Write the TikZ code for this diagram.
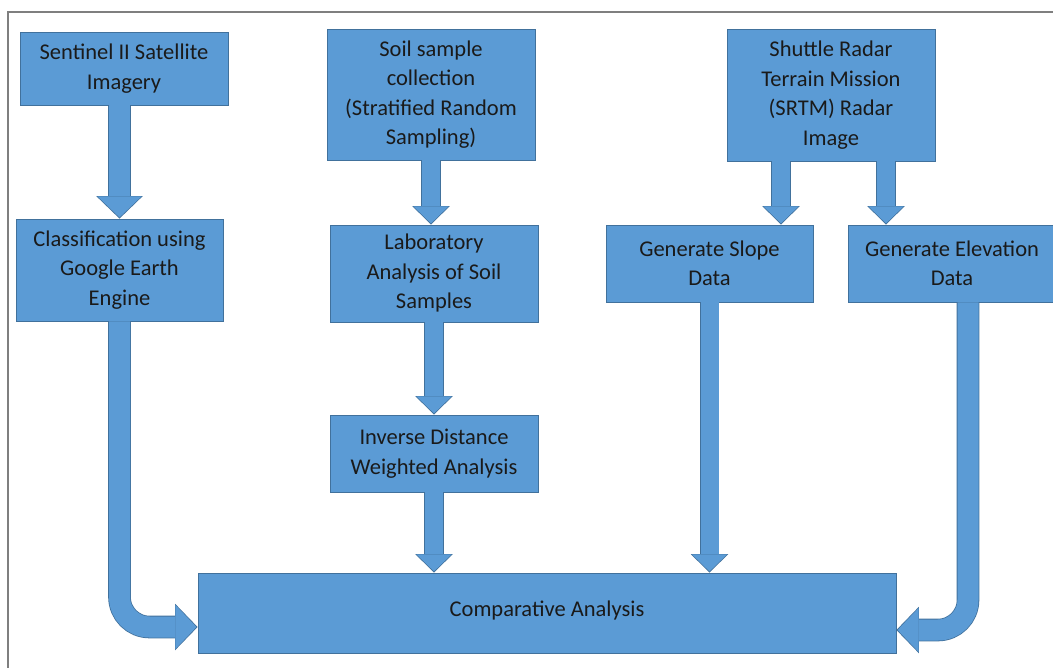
\documentclass[tikz,border=0pt]{standalone}
\usepackage{fontspec}
\setmainfont{Carlito}
\usepackage{tikz}
\usetikzlibrary{arrows.meta,calc}
\definecolor{boxfill}{HTML}{5B9BD5}
\definecolor{boxline}{HTML}{41719C}
\definecolor{frameline}{HTML}{7F7F7F}
\definecolor{textdark}{HTML}{1A1A1A}

\begin{document}
\begin{tikzpicture}[x=1pt, y=-1pt,
  box/.style={rectangle, fill=boxfill, draw=boxline, line width=0.8pt, text=textdark, align=center, inner sep=0pt, minimum width=208pt, font=\fontsize{22.5}{29.5}\selectfont},
  flow/.style={draw=boxfill, line width=18pt, shorten >=1.2pt, -{Triangle[width=35pt, length=17pt, line width=0pt]},
    preaction={draw=boxline, line width=19.6pt, shorten >=0pt, -{Triangle[width=37.5pt, length=18.5pt, line width=0pt]}}},
  bigflow/.style={draw=boxfill, line width=21pt, shorten >=1.2pt, -{Triangle[width=44pt, length=21pt, line width=0pt]},
    preaction={draw=boxline, line width=22.6pt, shorten >=0pt, -{Triangle[width=46.5pt, length=22.5pt, line width=0pt]}}}]
\useasboundingbox (0,0) rectangle (1053,668);
\draw[frameline, line width=1.5pt] (8,680) -- (8,12) -- (1070,12);

\node[box, minimum height=73pt] (sent) at (124,68.5) {Sentinel II Satellite\\Imagery};
\node[box, minimum height=131pt] (soil) at (431,94.5) {Soil sample\\collection\\(Stratified Random\\Sampling)};
\node[box, minimum height=132pt] (srtm) at (831,95) {Shuttle Radar\\Terrain Mission\\(SRTM) Radar\\Image};
\node[box, minimum width=207pt, minimum height=102pt] (cls) at (119.5,270) {Classification using\\Google Earth\\Engine};
\node[box, minimum height=97pt] (lab) at (434,273.5) {Laboratory\\Analysis of Soil\\Samples};
\node[box, minimum width=207pt, minimum height=77pt] (slope) at (709.5,263.5) {Generate Slope\\Data};
\node[box, minimum height=77pt] (elev) at (952,263.5) {Generate Elevation\\Data};
\node[box, minimum height=77pt] (idw) at (434,453.5) {Inverse Distance\\Weighted Analysis};
\node[box, minimum width=698pt, minimum height=80pt] (comp) at (547,613) {\raisebox{8pt}{Comparative Analysis}};

\coordinate (s1) at ($(srtm.south)+(-50,0)$);
\coordinate (s2) at ($(srtm.south)+(55,0)$);
\coordinate (e1) at ($(elev.south)+(16,0)$);
\coordinate (c1) at ($(comp.west)+(0,14)$);
\coordinate (c2) at ($(comp.east)+(0,17)$);

\draw[bigflow] (sent.south -| cls.north) -- (cls.north);
\draw[flow] (soil.south) -- (soil.south |- lab.north);
\draw[flow] (lab.south) -- (idw.north);
\draw[flow] (idw.south) -- (idw.south |- comp.north);
\draw[flow] (s1) -- (s1 |- slope.north);
\draw[flow] (s2) -- (s2 |- elev.north);
\draw[flow] (slope.south) -- (slope.south |- comp.north);
\draw[bigflow, rounded corners=30pt] (cls.south) |- (c1);
\draw[bigflow, rounded corners=30pt] (e1) |- (c2);
\end{tikzpicture}
\end{document}
